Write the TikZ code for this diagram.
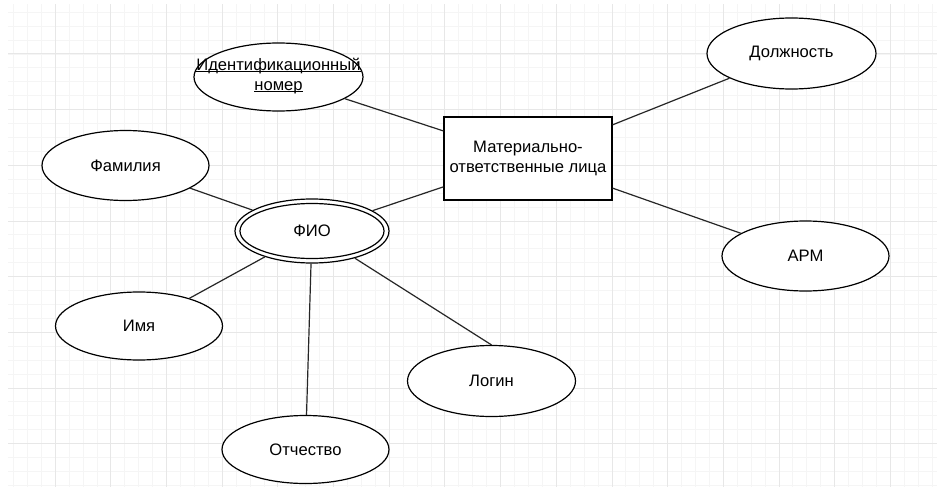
\documentclass[tikz,border=0pt]{standalone}
\usepackage{fontspec}
\setmainfont{Liberation Sans}
\usetikzlibrary{shapes.geometric}
\definecolor{gridminor}{HTML}{F5F5F5}
\definecolor{gridmajor}{HTML}{E7E7E7}
\newcommand\myul[1]{\setbox0\hbox{#1}\rlap{\rule[-1.6pt]{\wd0}{1.1pt}}\box0}
\tikzset{
  attr/.style={draw=black, line width=1.2pt, ellipse, inner sep=0pt, fill=white,
    font=\fontsize{16.6}{19.5}\selectfont, text=black},
  ent/.style={draw=black, line width=1.2pt, rectangle, inner sep=0pt, fill=white,
    font=\fontsize{16.6}{19.5}\selectfont, align=center, text=black},
  lbl/.style={inner sep=0pt, font=\fontsize{16.6}{19.5}\selectfont, align=center, text=black},
  conn/.style={draw=black!85, line width=1.2pt},
}
\begin{document}
\begin{tikzpicture}[x=1pt,y=-1pt]
\useasboundingbox (0,0) rectangle (937,487);
\fill[white] (0,0) rectangle (937,487);
% grid
\begin{scope}
\clip (8,5) rectangle (937,487);
\foreach \i in {0,...,66} \draw[gridminor, line width=1pt] ({13.55+\i*13.9175},0) -- ++(0,490);
\foreach \i in {0,...,34} \draw[gridminor, line width=1pt] (0,{12.25+\i*13.9175}) -- ++(940,0);
\foreach \i in {0,...,15} \draw[gridmajor, line width=1pt] ({55.3+\i*55.67},0) -- ++(0,490);
\foreach \i in {0,...,7} \draw[gridmajor, line width=1pt] (0,{54+\i*55.67}) -- ++(940,0);
\end{scope}
% nodes
\node[ent, minimum width=168pt, minimum height=83pt] (mol) at (528,158.5) {Материально-\\ответственные лица};
\node[attr, minimum width=169pt, minimum height=68pt] (id) at (278.5,77) {};
\node[lbl] (idt) at (278.5,76) {\myul{Идентификационный}\\\myul{номер}};
\node[attr, minimum width=169pt, minimum height=71pt] (dol) at (791.5,53.5) {Должность};
\node[attr, minimum width=167pt, minimum height=70pt] (arm) at (805.5,256) {АРМ};
\node[attr, minimum width=167pt, minimum height=70pt] (fam) at (125.5,165.5) {Фамилия};
\node[attr, minimum width=167pt, minimum height=68pt] (imya) at (139,326) {Имя};
\node[attr, minimum width=167pt, minimum height=68pt] (otch) at (305.5,449.5) {Отчество};
\node[attr, minimum width=168pt, minimum height=71pt] (login) at (491.5,381) {Логин};
\node[attr, minimum width=154pt, minimum height=64pt] (fio) at (312,231) {};
\node[attr, minimum width=144pt, minimum height=55pt] (fioin) at (312,231) {ФИО};
% connectors
\draw[conn] (id) -- (mol);
\draw[conn] (fio) -- (mol);
\draw[conn] (mol) -- (dol);
\draw[conn] (mol) -- (arm);
\draw[conn] (fam) -- (fio);
\draw[conn] (imya) -- (fio);
\draw[conn] (otch) -- (fio);
\draw[conn] (fio) -- (login.north);
\end{tikzpicture}
\end{document}
